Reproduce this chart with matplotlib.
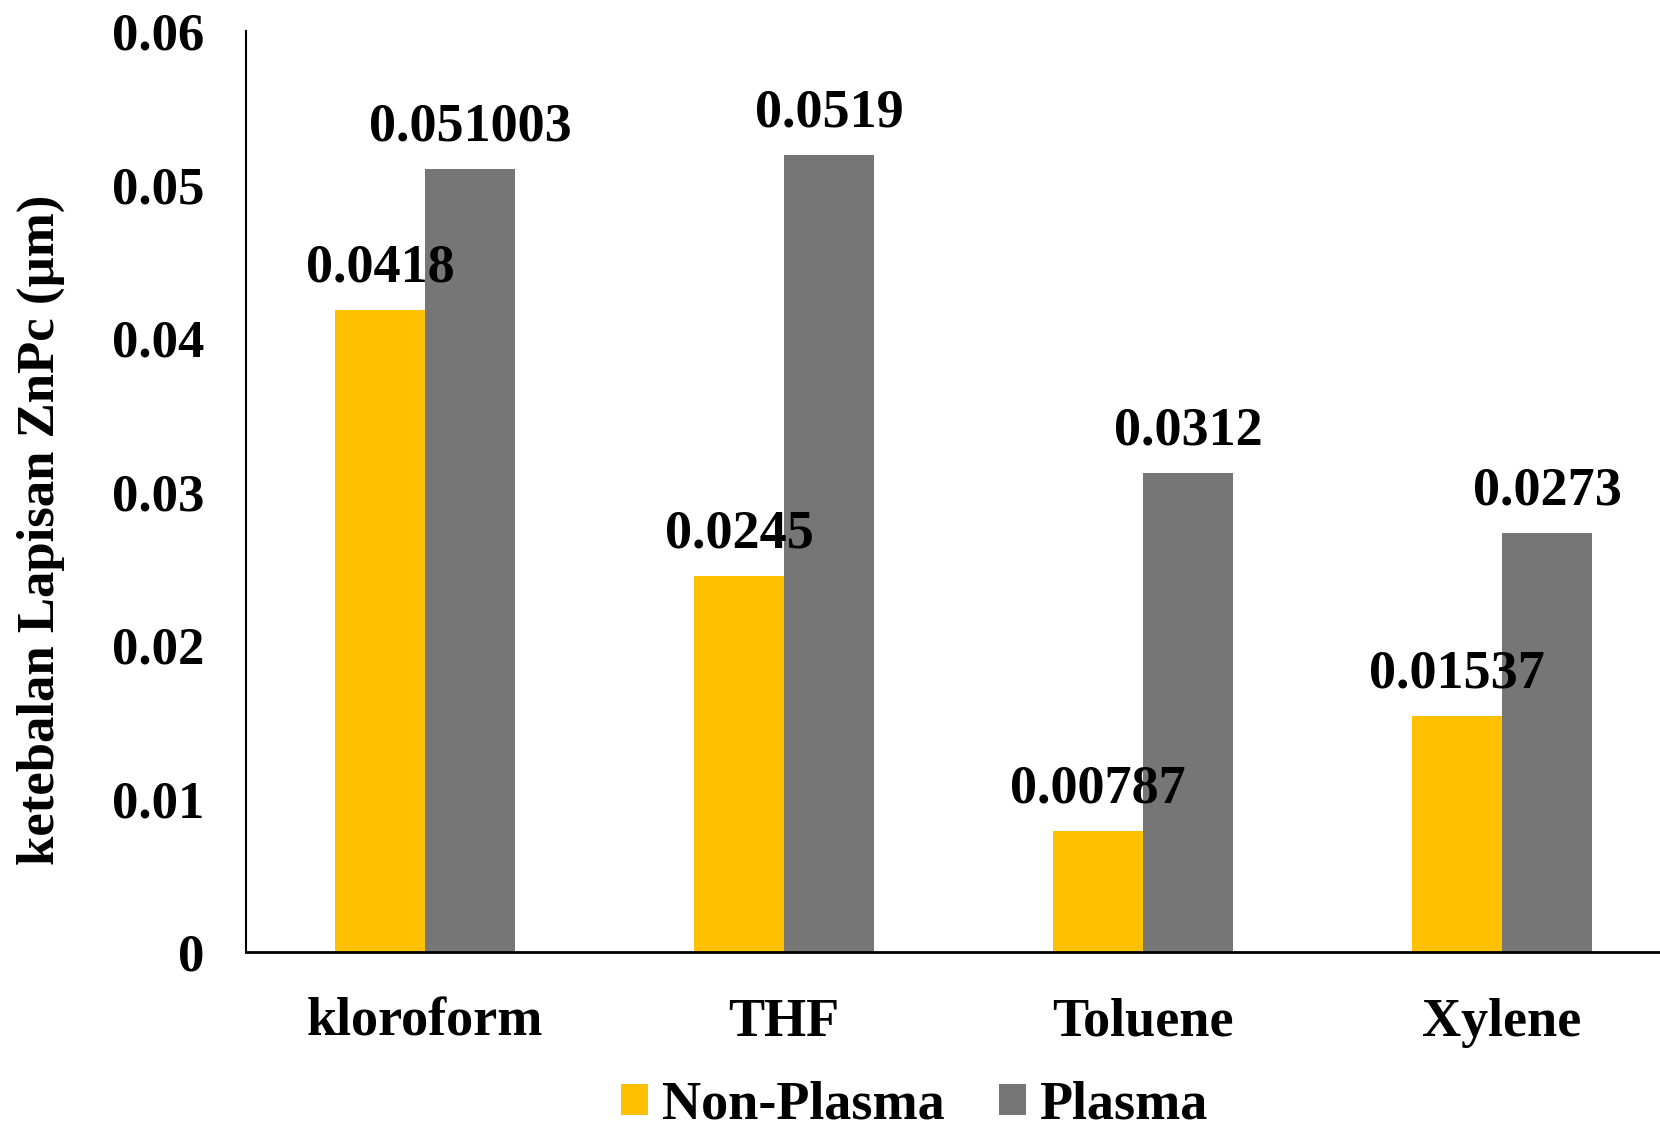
import matplotlib
matplotlib.use("Agg")
import matplotlib.pyplot as plt
import numpy as np

categories = ["kloroform", "THF", "Toluene", "Xylene"]
non_plasma = [0.0418, 0.0245, 0.00787, 0.01537]
plasma = [0.051003, 0.0519, 0.0312, 0.0273]
non_plasma_labels = ["0.0418", "0.0245", "0.00787", "0.01537"]
plasma_labels = ["0.051003", "0.0519", "0.0312", "0.0273"]
yticks = [0, 0.01, 0.02, 0.03, 0.04, 0.05, 0.06]
ytick_labels = ["0", "0.01", "0.02", "0.03", "0.04", "0.05", "0.06"]

plt.rcParams['font.family'] = ['Liberation Serif', 'DejaVu Serif']
plt.rcParams['font.weight'] = 'bold'

fig = plt.figure(figsize=(16.6, 11.32), dpi=100)
ax = fig.add_axes([0.148, 0.159, 0.865, 0.8136])

x = np.arange(len(categories))
w = 0.25
c1, c2 = "#FFC000", "#767676"
b1 = ax.bar(x - w/2, non_plasma, w, color=c1, label="Non-Plasma")
b2 = ax.bar(x + w/2, plasma, w, color=c2, label="Plasma")

fs = 39
for xi, v, t in zip(x - w/2, non_plasma, non_plasma_labels):
    ax.text(xi, v + 0.0011, t, ha='center', va='bottom', fontsize=fs, fontweight='bold')
for xi, v, t in zip(x + w/2, plasma, plasma_labels):
    ax.text(xi, v + 0.0011, t, ha='center', va='bottom', fontsize=fs, fontweight='bold')

ax.set_xlim(-0.5, 3.5)
ax.set_ylim(0, 0.06)
ax.set_yticks(yticks)
ax.set_yticklabels(ytick_labels, fontsize=38, fontweight='bold')
ax.set_xticks(x)
ax.set_xticklabels(categories, fontsize=fs, fontweight='bold')
ax.tick_params(axis='both', length=0)
ax.tick_params(axis='y', pad=30)
ax.tick_params(axis='x', pad=33)
for s in ['top', 'right']:
    ax.spines[s].set_visible(False)
ax.spines['left'].set_linewidth(1.5)
ax.spines['bottom'].set_linewidth(2)

fig.text(41/1660, 1 - 530/1132, "ketebalan Lapisan ZnPc (µm)", rotation=90,
         ha='center', va='center', fontsize=38, fontweight='bold')

fig.legend(handles=[b1, b2], loc='center', bbox_to_anchor=(0.551, 0.023), ncol=2,
           frameon=False, prop={'size': fs, 'weight': 'bold'}, handlelength=0.5,
           handleheight=0.5, handletextpad=0.25, columnspacing=1.0,
           borderpad=0.05)

fig.savefig("out.png", dpi=100)
